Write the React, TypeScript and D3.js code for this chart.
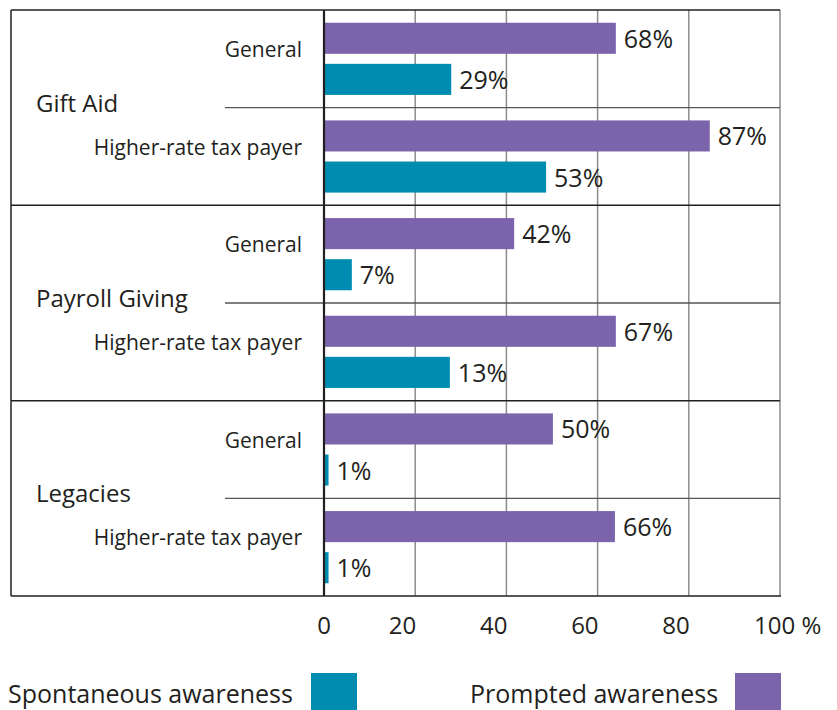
import * as d3 from "d3";

const groups = ["Gift Aid", "Payroll Giving", "Legacies"];
const subgroups = ["General", "Higher-rate tax payer"];

// printed value labels, in row order (group x subgroup)
const promptedLabels = [68, 87, 42, 67, 50, 66];
const spontaneousLabels = [29, 53, 7, 13, 1, 1];

// bar lengths as drawn in the source (they don't all agree with the labels)
const promptedBars = [64, 84.6, 41.7, 64, 50.2, 63.8];
const spontaneousBars = [27.9, 48.7, 6.1, 27.6, 1, 1];

const xTicks = [0, 20, 40, 60, 80, 100];

const W = 837;
const H = 710;
const TEAL = "#008cb1";
const PURPLE = "#7b64ab";
const INK = "#231f20";
const GRID = "#8c8c8c";
const FONT = "'Open Sans', 'Noto Sans', sans-serif";

const left = 11;
const top = 10;
const right = 780;
const bottom = 596;

const x = d3.scaleLinear().domain([0, 100]).range([324, right]);
const yGroup = d3.scaleBand<string>().domain(groups).range([top, bottom]);
const ySub = d3.scaleBand<string>().domain(subgroups).range([0, yGroup.bandwidth()]);
const ySeries = d3
  .scaleBand<string>()
  .domain(["prompted", "spontaneous"])
  .range([0, ySub.bandwidth()])
  .paddingInner(0.244)
  .paddingOuter(0.31);

type Row = {
  group: string;
  sub: string;
  prompted: number;
  spontaneous: number;
  pLabel: number;
  sLabel: number;
};

const rows: Row[] = [];
groups.forEach((g, gi) =>
  subgroups.forEach((s, si) => {
    const i = gi * subgroups.length + si;
    rows.push({
      group: g,
      sub: s,
      prompted: promptedBars[i],
      spontaneous: spontaneousBars[i],
      pLabel: promptedLabels[i],
      sLabel: spontaneousLabels[i],
    });
  })
);

const tickLabel = (v: number) => {
  if (v === 0) return { x: x(v), anchor: "middle", text: "0" };
  if (v === 100) return { x: x(v) - 26, anchor: "start", text: "100 %" };
  return { x: x(v) + 1, anchor: "end", text: String(v) };
};

export default function App() {
  const bh = ySeries.bandwidth();
  return (
    <svg
      width={W}
      height={H}
      style={{ position: "absolute", left: 0, top: 0, background: "#fff" }}
      fontFamily={FONT}
    >
      {/* gridlines */}
      {xTicks
        .filter((v) => v > 0 && v < 100)
        .map((v) => (
          <line key={v} x1={x(v)} x2={x(v)} y1={top} y2={bottom} stroke={GRID} strokeWidth={1.5} />
        ))}
      <line x1={x(100)} x2={x(100)} y1={top} y2={bottom} stroke={GRID} strokeWidth={1.5} />

      {/* sub separators */}
      {groups.map((g) => (
        <line
          key={g}
          x1={225}
          x2={right}
          y1={yGroup(g)! + ySub.step()}
          y2={yGroup(g)! + ySub.step()}
          stroke="#555"
          strokeWidth={1.3}
        />
      ))}
      {/* group separators */}
      {groups.slice(1).map((g) => (
        <line key={g} x1={left} x2={right} y1={yGroup(g)} y2={yGroup(g)} stroke={INK} strokeWidth={1.5} />
      ))}

      {/* bars + value labels */}
      {rows.map((r) => {
        const y0 = yGroup(r.group)! + ySub(r.sub)!;
        const yp = y0 + ySeries("prompted")!;
        const ys = y0 + ySeries("spontaneous")!;
        return (
          <g key={r.group + r.sub}>
            <rect x={x(0)} y={yp} width={x(r.prompted) - x(0)} height={bh} fill={PURPLE} />
            <rect x={x(0)} y={ys} width={x(r.spontaneous) - x(0)} height={bh} fill={TEAL} />
            <text x={x(r.prompted) + 8} y={yp + bh / 2 + 9.5} fontSize={25} fill={INK}>
              {r.pLabel}%
            </text>
            <text x={x(r.spontaneous) + 8} y={ys + bh / 2 + 9.5} fontSize={25} fill={INK}>
              {r.sLabel}%
            </text>
            <text x={302} y={y0 + 47} fontSize={21} fill={INK} textAnchor="end">
              {r.sub}
            </text>
          </g>
        );
      })}

      {/* group labels */}
      {groups.map((g) => (
        <text key={g} x={36} y={yGroup(g)! + ySub.step() + 4} fontSize={24} fill={INK}>
          {g}
        </text>
      ))}

      {/* frame */}
      <line x1={left} x2={right} y1={top} y2={top} stroke={INK} strokeWidth={1.5} />
      <line x1={left} x2={right + 1} y1={bottom} y2={bottom} stroke={INK} strokeWidth={1.5} />
      <line x1={left} x2={left} y1={top} y2={bottom} stroke={INK} strokeWidth={1.5} />
      <line x1={x(0)} x2={x(0)} y1={top} y2={bottom} stroke={INK} strokeWidth={2.2} />

      {/* x tick labels */}
      {xTicks.map((v) => {
        const t = tickLabel(v);
        return (
          <text key={v} x={t.x} y={634} fontSize={24} fill={INK} textAnchor={t.anchor as any}>
            {t.text}
          </text>
        );
      })}

      {/* legend */}
      <text x={8} y={703} fontSize={25} fill={INK}>
        Spontaneous awareness
      </text>
      <rect x={311} y={673} width={46} height={46} fill={TEAL} />
      <text x={470} y={703} fontSize={25} fill={INK}>
        Prompted awareness
      </text>
      <rect x={735} y={673} width={46} height={46} fill={PURPLE} />
    </svg>
  );
}
